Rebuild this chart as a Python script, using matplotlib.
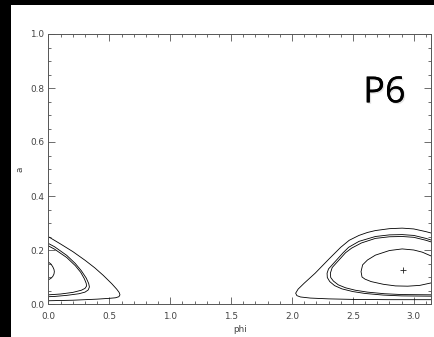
import numpy as np
import matplotlib
matplotlib.use("Agg")
import matplotlib.pyplot as plt
from matplotlib.patches import Rectangle
from matplotlib.ticker import MultipleLocator
import matplotlib.patheffects as pe

# ─── Contour curves (phi, a) ──────────────────────────────────────────────────

# left side (phi near 0)
left_outer_phi = [0.0, 0.1, 0.2, 0.3, 0.38, 0.45, 0.52, 0.56, 0.58, 0.587, 0.578, 0.55, 0.5, 0.4, 0.3, 0.2, 0.1, 0.0]
left_outer_a   = [0.249, 0.222, 0.194, 0.162, 0.134, 0.106, 0.075, 0.055, 0.043, 0.034, 0.027, 0.023, 0.021, 0.018, 0.016, 0.014, 0.013, 0.012]

left_pair1_phi = [0.0, 0.05, 0.15, 0.22, 0.27, 0.31, 0.33, 0.336, 0.326, 0.30, 0.25, 0.15, 0.05, 0.0]
left_pair1_a   = [0.224, 0.212, 0.180, 0.150, 0.123, 0.096, 0.076, 0.063, 0.052, 0.044, 0.038, 0.032, 0.028, 0.027]

left_pair2_phi = [0.0, 0.05, 0.15, 0.22, 0.265, 0.295, 0.31, 0.312, 0.30, 0.27, 0.2, 0.1, 0.0]
left_pair2_a   = [0.215, 0.203, 0.172, 0.142, 0.117, 0.093, 0.076, 0.066, 0.058, 0.051, 0.043, 0.037, 0.034]

left_inner_phi = [0.0, 0.02, 0.035, 0.045, 0.048, 0.045, 0.035, 0.02, 0.0]
left_inner_a   = [0.155, 0.148, 0.138, 0.128, 0.120, 0.111, 0.102, 0.095, 0.090]

# right side (phi near pi)
right_outer_phi = [3.1416, 3.1, 3.0, 2.905, 2.8, 2.685, 2.62, 2.55, 2.47, 2.4, 2.3, 2.19, 2.1, 2.05,
                   2.03, 2.04, 2.07, 2.15, 2.3, 2.5, 2.8, 3.1416]
right_outer_a   = [0.263, 0.268, 0.278, 0.281, 0.279, 0.272, 0.265, 0.254, 0.236, 0.210, 0.165, 0.114, 0.077, 0.055,
                   0.040, 0.031, 0.026, 0.022, 0.019, 0.017, 0.016, 0.016]

right_pair1_phi = [3.1416, 3.1, 3.0, 2.905, 2.8, 2.685, 2.55, 2.465, 2.42, 2.36, 2.30, 2.288,
                   2.29, 2.31, 2.35, 2.41, 2.5, 2.6, 2.75, 2.9, 3.1416]
right_pair1_a   = [0.237, 0.243, 0.254, 0.257, 0.256, 0.250, 0.232, 0.210, 0.190, 0.160, 0.130, 0.114,
                   0.098, 0.083, 0.068, 0.056, 0.046, 0.039, 0.033, 0.030, 0.029]

right_pair2_phi = [3.1416, 3.1, 3.0, 2.905, 2.8, 2.685, 2.57, 2.49, 2.44, 2.38, 2.33, 2.315,
                   2.318, 2.34, 2.38, 2.44, 2.52, 2.62, 2.76, 2.9, 3.1416]
right_pair2_a   = [0.230, 0.236, 0.247, 0.250, 0.249, 0.243, 0.226, 0.207, 0.190, 0.160, 0.135, 0.114,
                   0.098, 0.085, 0.071, 0.060, 0.051, 0.044, 0.038, 0.035, 0.034]

right_inner_phi = [3.1416, 3.07, 3.0, 2.905, 2.8, 2.685, 2.62, 2.58, 2.567,
                   2.575, 2.6, 2.65, 2.75, 2.85, 2.95, 3.05, 3.1416]
right_inner_a   = [0.178, 0.192, 0.200, 0.204, 0.198, 0.181, 0.163, 0.145, 0.120,
                   0.100, 0.092, 0.083, 0.073, 0.067, 0.066, 0.069, 0.078]

center_phi = [2.91]
center_a   = [0.127]

curves = [
    (left_outer_phi, left_outer_a),
    (left_pair1_phi, left_pair1_a),
    (left_pair2_phi, left_pair2_a),
    (left_inner_phi, left_inner_a),
    (right_outer_phi, right_outer_a),
    (right_pair1_phi, right_pair1_a),
    (right_pair2_phi, right_pair2_a),
    (right_inner_phi, right_inner_a),
]

# ─── Figure ───────────────────────────────────────────────────────────────────

W, H = 435, 337
fig = plt.figure(figsize=(W / 100, H / 100), dpi=100, facecolor="black")
# white page with black strip on the left and top
page = Rectangle((11 / W, 0), 1 - 11 / W, 1 - 5 / H,
                 transform=fig.transFigure, facecolor="white",
                 edgecolor="none", zorder=-10)
fig.patches.append(page)

ax = fig.add_axes([48.5 / W, 33 / H, (431 - 48.5) / W, (304 - 34) / H])
ax.set_zorder(5)
ax.set_facecolor("white")

for phi, a in curves:
    ax.plot(phi, a, color="black", lw=0.6)

ax.plot(center_phi, center_a, marker="+", color="#222222", ms=5, mew=0.6, ls="none")

ax.set_xlim(0, np.pi)
ax.set_ylim(0, 1)

ax.xaxis.set_major_locator(MultipleLocator(0.5))
ax.xaxis.set_minor_locator(MultipleLocator(0.1))
ax.yaxis.set_major_locator(MultipleLocator(0.2))
ax.yaxis.set_minor_locator(MultipleLocator(0.05))
ax.xaxis.set_major_formatter(matplotlib.ticker.FormatStrFormatter("%.1f"))
ax.yaxis.set_major_formatter(matplotlib.ticker.FormatStrFormatter("%.1f"))

grey = "#555555"
ax.tick_params(which="both", direction="in", top=True, right=True,
               color=grey, width=0.6, labelsize=6.4, labelcolor="#444444")
ax.tick_params(axis="x", which="both", pad=6)
ax.tick_params(axis="y", which="both", pad=3)
ax.tick_params(which="major", length=5)
ax.tick_params(which="minor", length=2.5)
for s in ax.spines.values():
    s.set_color(grey)
    s.set_linewidth(0.7)

ax.set_xlabel("phi", fontsize=6.4, color="#444444", labelpad=2.5)
ax.set_ylabel("a", fontsize=6.4, color="#444444", labelpad=4)

ax.text(0.878, 0.78, "P6", transform=ax.transAxes, ha="center", va="center",
        fontsize=26, family="Open Sans", color="black",
        path_effects=[pe.withSimplePatchShadow(offset=(1, -1), shadow_rgbFace="#bbbbbb", alpha=0.4),
                      pe.Normal()])

fig.savefig("out.png", dpi=100, facecolor=fig.get_facecolor())
